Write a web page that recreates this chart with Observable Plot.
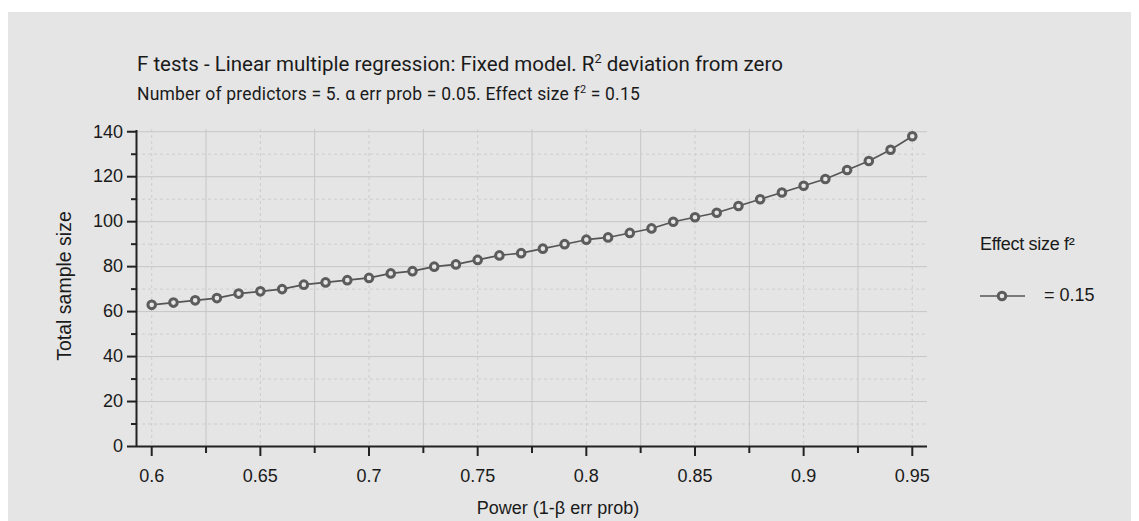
<!DOCTYPE html>
<html>
<head>
<meta charset="utf-8">
<script src="https://cdn.jsdelivr.net/npm/d3@7"></script>
<script src="https://cdn.jsdelivr.net/npm/@observablehq/plot@0.6"></script>
<style>
  html, body { margin: 0; padding: 0; background: #ffffff; }
  #wrap { position: relative; width: 1139px; height: 521px; overflow: hidden; }
  #panel { position: absolute; left: 8px; top: 12px; width: 1123px; height: 509px; background: #e5e5e5; }
  .txt { position: absolute; white-space: nowrap; line-height: 1; color: #1a1a1a; }
  .title { font-family: Roboto, "Noto Sans", sans-serif; }
  .sans { font-family: "Liberation Sans", Arial, sans-serif; }
  sup { font-size: 0.62em; line-height: 0; position: relative; top: -0.05em; }
  #chart { position: absolute; left: 0; top: 0; }
</style>
</head>
<body>
<div id="wrap">
  <div id="panel"></div>
  <div id="chart"></div>
  <div class="txt title" style="left:137px; top:54px; font-size:20.5px;">F tests - Linear multiple regression: Fixed model. R<sup>2</sup> deviation from zero</div>
  <div class="txt title" style="left:137px; top:86px; font-size:17.5px; letter-spacing:0.2px;">Number of predictors = 5. α err prob = 0.05. Effect size f<sup>2</sup> = 0.15</div>
  <div class="txt sans" id="ylab" style="font-size:19.5px;">Total sample size</div>
  <div class="txt sans" id="xlab" style="font-size:18px; top:499px;">Power (1-β err prob)</div>
  <div class="txt sans" style="left:980px; top:235px; font-size:18px; letter-spacing:-0.3px;">Effect size f²</div>
  <div id="legitem" style="position:absolute; left:980px; top:289px;"></div>
  <div class="txt sans" style="left:1044px; top:286px; font-size:18px;">= 0.15</div>
</div>
<script>
// Data
const power = [0.60,0.61,0.62,0.63,0.64,0.65,0.66,0.67,0.68,0.69,0.70,0.71,0.72,0.73,0.74,0.75,0.76,0.77,0.78,0.79,0.80,0.81,0.82,0.83,0.84,0.85,0.86,0.87,0.88,0.89,0.90,0.91,0.92,0.93,0.94,0.95];
const sampleSize = [63,64,65,66,68,69,70,72,73,74,75,77,78,80,81,83,85,86,88,90,92,93,95,97,100,102,104,107,110,113,116,119,123,127,132,138];

const xMajor = [0.6,0.65,0.7,0.75,0.8,0.85,0.9,0.95];
const xTickLabels = ["0.6","0.65","0.7","0.75","0.8","0.85","0.9","0.95"];
const xMinor = [0.625,0.675,0.725,0.775,0.825,0.875,0.925];
const yMajor = [0,20,40,60,80,100,120,140];
const yTickLabels = ["0","20","40","60","80","100","120","140"];
const yMinor = [10,30,50,70,90,110,130];
const xDomain = [0.593, 0.957];
const yDomain = [0, 141];

const data = power.map((p, i) => ({power: p, n: sampleSize[i]}));

const axisColor = "#222222";
const lineColor = "#555555";
const dotColor = "#5c5c5c";

const chart = Plot.plot({
  width: 1139,
  height: 521,
  marginLeft: 136,
  marginRight: 212,
  marginTop: 129,
  marginBottom: 75,
  style: {background: "transparent", fontFamily: "'Liberation Sans', Arial, sans-serif", fontSize: "18px", color: "#1a1a1a"},
  x: {domain: xDomain, axis: null},
  y: {domain: yDomain, axis: null},
  marks: [
    Plot.gridX(xMinor, {stroke: "#c6c6c6", strokeOpacity: 1, strokeWidth: 1}),
    Plot.gridX(xMajor, {stroke: "#cdcdcd", strokeOpacity: 1, strokeWidth: 1, strokeDasharray: "3,3"}),
    Plot.gridY(yMajor, {stroke: "#c6c6c6", strokeOpacity: 1, strokeWidth: 1}),
    Plot.gridY(yMinor, {stroke: "#cdcdcd", strokeOpacity: 1, strokeWidth: 1, strokeDasharray: "3,3"}),
    Plot.line(data, {x: "power", y: "n", stroke: lineColor, strokeWidth: 1.6}),
    Plot.dot(data, {x: "power", y: "n", r: 3.8, stroke: dotColor, strokeWidth: 3, fill: "#e6e6e6"}),
    Plot.axisX(xMajor, {tickSize: 10, tickPadding: 13, tickFormat: d => xTickLabels[xMajor.indexOf(d)], stroke: axisColor, strokeWidth: 2, label: null, fontSize: 18}),
    Plot.axisX(xMinor, {tickSize: 7, tickFormat: () => "", stroke: axisColor, strokeWidth: 2, label: null}),
    Plot.axisY(yMajor, {tickSize: 9, tickPadding: 4.5, tickFormat: d => yTickLabels[yMajor.indexOf(d)], stroke: axisColor, strokeWidth: 2, label: null, fontSize: 18}),
    Plot.axisY(yMinor, {tickSize: 5, tickFormat: () => "", stroke: axisColor, strokeWidth: 2, label: null}),
    Plot.ruleY([yDomain[0]], {stroke: axisColor, strokeWidth: 2}),
    Plot.ruleX([xDomain[0]], {y1: yDomain[0], y2: 140.6, stroke: axisColor, strokeWidth: 2})
  ]
});
document.getElementById("chart").appendChild(chart);

// axis titles
const ylab = document.getElementById("ylab");
ylab.style.left = "65px";
ylab.style.top = "286px";
ylab.style.transform = "translate(-50%, -50%) rotate(-90deg)";
const xlab = document.getElementById("xlab");
xlab.style.left = "558px";
xlab.style.transform = "translateX(-50%)";

// legend symbol
const leg = d3.select("#legitem").append("svg").attr("width", 48).attr("height", 14);
leg.append("line").attr("x1", 0).attr("x2", 45).attr("y1", 7).attr("y2", 7).attr("stroke", lineColor).attr("stroke-width", 1.6);
leg.append("circle").attr("cx", 22).attr("cy", 7).attr("r", 3.8).attr("stroke", dotColor).attr("stroke-width", 3).attr("fill", "#e6e6e6");
</script>
</body>
</html>
